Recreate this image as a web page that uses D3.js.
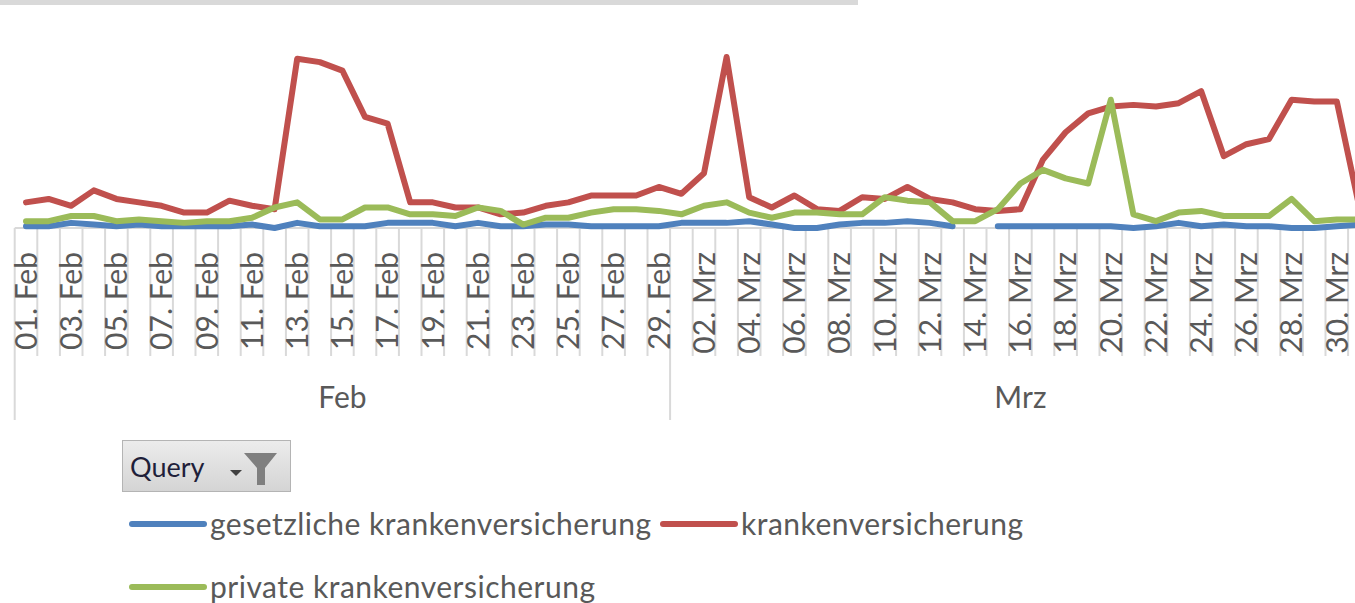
<!DOCTYPE html>
<html>
<head>
<meta charset="utf-8">
<script src="https://cdn.jsdelivr.net/npm/d3@7"></script>
<style>
  body { margin: 0; background: #fff; }
  svg { display: block; font-family: Lato, "Open Sans", sans-serif; }
</style>
</head>
<body>
<div id="chart"></div>
<script>
// categories: one per day, Feb + Mrz 2020
var categories = [
  "01. Feb","02. Feb","03. Feb","04. Feb","05. Feb","06. Feb","07. Feb","08. Feb","09. Feb","10. Feb",
  "11. Feb","12. Feb","13. Feb","14. Feb","15. Feb","16. Feb","17. Feb","18. Feb","19. Feb","20. Feb",
  "21. Feb","22. Feb","23. Feb","24. Feb","25. Feb","26. Feb","27. Feb","28. Feb","29. Feb",
  "01. Mrz","02. Mrz","03. Mrz","04. Mrz","05. Mrz","06. Mrz","07. Mrz","08. Mrz","09. Mrz","10. Mrz",
  "11. Mrz","12. Mrz","13. Mrz","14. Mrz","15. Mrz","16. Mrz","17. Mrz","18. Mrz","19. Mrz","20. Mrz",
  "21. Mrz","22. Mrz","23. Mrz","24. Mrz","25. Mrz","26. Mrz","27. Mrz","28. Mrz","29. Mrz","30. Mrz","31. Mrz"
];
var groups = [{name: "Feb", count: 29}, {name: "Mrz", count: 31}];

var gesetzliche = [1,1,3,2,1,2,1,1,1,1, 2,0,3,1,1,1,3,3,3,1, 3,1,1,2,2,1,1,1,1,3,
                   3,3,4,2,0,0,2,3,3,4, 3,1,null,1,1,1,1,1,1,0, 1,3,1,2,1,1,0,0,1,2];
var kranken = [15,17,13,22,17,15,13,9,9,16, 13,11,99,97,92,65,61,15,15,12, 12,8,9,13,15,19,19,19,24,20,
               32,100,18,12,19,11,10,18,17,24, 17,15,11,10,11,40,56,67,71,72, 71,73,80,42,49,52,75,74,74,12];
var privat = [4,4,7,7,4,5,4,3,4,4, 6,12,15,5,5,12,12,8,8,7, 12,10,2,6,6,9,11,11,10,8,
              13,15,9,6,9,9,8,8,18,16, 15,4,4,11,26,34,29,26,75,8, 4,9,10,7,7,7,17,4,5,5];

var series = [
  {name: "gesetzliche krankenversicherung", values: gesetzliche, color: "#4f81bd"},
  {name: "krankenversicherung", values: kranken, color: "#c0504d"},
  {name: "private krankenversicherung", values: privat, color: "#9bbb59"}
];

var width = 1355, height = 603;
var svg = d3.select("#chart").append("svg")
  .attr("width", width).attr("height", height);

// gray strip at the top (cropped chart title area)
svg.append("rect").attr("x", 0).attr("y", 0).attr("width", 858).attr("height", 5).attr("fill", "#d9d9d9");

var x = d3.scaleBand().domain(categories).range([14.7, 14.7 + 22.6 * categories.length]).padding(0);
var y = d3.scaleLinear().domain([0, 100]).range([228, 57]);
var cx = function(c){ return x(c) + x.bandwidth() / 2; };

var axisY = y(0);
var gridColor = "#d9d9d9";

// category boundary ticks
var groupStarts = [0];
groups.forEach(function(g, i){ groupStarts.push(groupStarts[i] + g.count); });
var boundaries = d3.range(categories.length + 1);
svg.append("g").selectAll("line").data(boundaries).join("line")
  .attr("x1", function(i){ return x.range()[0] + i * x.bandwidth(); })
  .attr("x2", function(i){ return x.range()[0] + i * x.bandwidth(); })
  .attr("y1", axisY)
  .attr("y2", function(i){ return groupStarts.indexOf(i) >= 0 ? 420 : 356; })
  .attr("stroke", gridColor).attr("stroke-width", 2);

svg.append("line").attr("x1", x.range()[0]).attr("x2", x.range()[1])
  .attr("y1", axisY).attr("y2", axisY)
  .attr("stroke", gridColor).attr("stroke-width", 2);

// rotated tick labels, every other day
svg.append("g").selectAll("text").data(categories.filter(function(d, i){ return i % 2 === 0; })).join("text")
  .attr("transform", function(d){ return "translate(" + cx(d) + ",252) rotate(-90)"; })
  .attr("text-anchor", "end").attr("dy", "0.36em")
  .attr("font-size", 30).attr("fill", "#595959")
  .text(function(d){ return d; });

// group labels
svg.append("g").selectAll("text").data(groups).join("text")
  .attr("x", function(g, i){
    var a = x.range()[0] + groupStarts[i] * x.bandwidth();
    var b = x.range()[0] + groupStarts[i + 1] * x.bandwidth();
    return (a + b) / 2;
  })
  .attr("y", 408).attr("text-anchor", "middle")
  .attr("font-size", 30).attr("fill", "#595959")
  .text(function(g){ return g.name; });

// lines
var line = d3.line()
  .defined(function(d){ return d != null; })
  .x(function(d, i){ return cx(categories[i]); })
  .y(function(d){ return y(d); });

svg.append("g").selectAll("path").data(series).join("path")
  .attr("d", function(s){ return line(s.values); })
  .attr("fill", "none").attr("stroke", function(s){ return s.color; })
  .attr("stroke-width", 6).attr("stroke-linejoin", "round").attr("stroke-linecap", "round");

// Query filter button
var defs = svg.append("defs");
var grad = defs.append("linearGradient").attr("id", "btn").attr("x1", 0).attr("x2", 0).attr("y1", 0).attr("y2", 1);
grad.append("stop").attr("offset", "0%").attr("stop-color", "#ececec");
grad.append("stop").attr("offset", "100%").attr("stop-color", "#d4d4d4");
var btn = svg.append("g");
btn.append("rect").attr("x", 122.5).attr("y", 440.5).attr("width", 168).attr("height", 51)
  .attr("fill", "url(#btn)").attr("stroke", "#b4b4b4");
btn.append("text").attr("x", 130).attr("y", 477).attr("font-size", 27).attr("fill", "#1f1f3a").text("Query");
btn.append("path").attr("d", "M230,470 L242,470 L236,476 Z").attr("fill", "#404040");
btn.append("path").attr("d", "M244,453 L277,453 L265,468 L265,485 L257,485 L257,468 Z").attr("fill", "#7f7f7f");

// legend
var legendPos = [{x: 130, y: 524}, {x: 661, y: 524}, {x: 130, y: 587}];
var leg = svg.append("g").selectAll("g").data(series).join("g")
  .attr("transform", function(s, i){ return "translate(" + legendPos[i].x + "," + legendPos[i].y + ")"; });
leg.append("line").attr("x1", 2).attr("x2", 74)
  .attr("stroke", function(s){ return s.color; }).attr("stroke-width", 6).attr("stroke-linecap", "round");
leg.append("text").attr("x", 80).attr("y", 11).attr("font-size", 30).attr("letter-spacing", 0.5)
  .attr("fill", "#595959")
  .text(function(s){ return s.name; });
</script>
</body>
</html>
